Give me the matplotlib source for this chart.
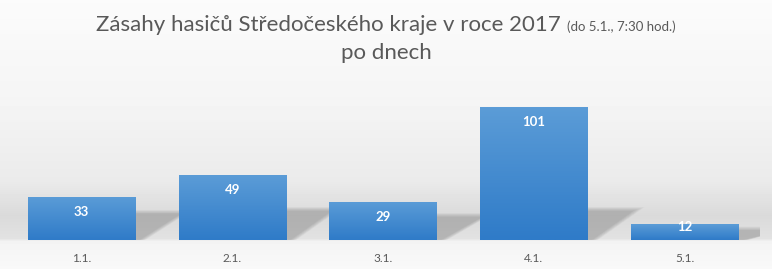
#Zasahy hasicu po dnech - bar chart
import numpy as np
import matplotlib.pyplot as plt
from matplotlib.patches import Polygon
from matplotlib.colors import LinearSegmentedColormap

#data
days = ['1.1.', '2.1.', '3.1.', '4.1.', '5.1.']
zasahy = [33, 49, 29, 101, 12]

plt.rcParams['font.family'] = ['Lato', 'DejaVu Sans']

fig = plt.figure(figsize=(7.72, 2.69), dpi=100)

#background gradient (light top -> gray near the bar base -> light below)
bg = fig.add_axes([0, 0, 1, 1], zorder=0)
yy = np.arange(269)
shade = np.interp(yy, [0, 100, 180, 215, 238, 241, 269],
                  [0.985, 0.96, 0.92, 0.855, 0.885, 0.955, 0.975])
bg.imshow(np.tile(shade[:, None], (1, 10)), cmap='gray', vmin=0, vmax=1,
          aspect='auto', extent=[0, 1, 1, 0])
bg.set_xlim(0, 1)
bg.set_ylim(1, 0)
bg.axis('off')

ax = fig.add_axes([6 / 772, 29 / 269, 754 / 772, 158 / 269], zorder=1)
ax.patch.set_alpha(0)
x = np.arange(len(days))
bars = ax.bar(x, zasahy, width=0.71, color='none', zorder=3)

#blue vertical gradient inside each bar
grad = np.linspace(0, 1, 100)[:, None]
blue = LinearSegmentedColormap.from_list('b', ['#5b9cd7', '#2f7bc8'])
for b in bars:
    x0, w, h = b.get_x(), b.get_width(), b.get_height()
    im = ax.imshow(grad, cmap=blue, aspect='auto', extent=[x0, x0 + w, 0, h],
                   origin='upper', zorder=3)
    im.set_clip_path(b)
    #soft skewed shadow to the right of the bar base
    sh_h = min(22, h * 0.6)
    xr = x0 + w
    for i in range(10):
        g = i / 9
        pts = [(xr, 0), (xr - 0.02, sh_h + 3 * g),
               (xr + 0.3 + 0.08 * g, sh_h + 3 * g), (xr + 0.03 + 0.04 * g, 0)]
        ax.add_patch(Polygon(pts, closed=True, color='#707070', alpha=0.045,
                             lw=0, zorder=2))

#values inside bars
for xi, v in zip(x, zasahy):
    off = 11.4 if v > 20 else 2.4
    ax.text(xi, v - off, str(v), ha='center', va='center', color='white',
            fontsize=9.5, fontweight='bold', zorder=4)

ax.set_xlim(-0.5, 4.5)
ax.set_ylim(0, 120)
ax.set_yticks([])
ax.set_xticks(x)
ax.set_xticklabels(days, color='#595959', fontsize=8.5)
ax.tick_params(axis='x', length=0, pad=9)
for s in ax.spines.values():
    s.set_visible(False)

#title: big part + small part, centered together
t1 = fig.text(0, 1 - 24 / 269, 'Zásahy hasičů Středočeského kraje v roce 2017 ',
              ha='left', va='center', fontsize=16, color='#595959')
t2 = fig.text(0, 1 - 24 / 269, '(do 5.1., 7:30 hod.)', ha='left', va='baseline',
              fontsize=9.5, color='#595959')
r = fig.canvas.get_renderer()
w1 = t1.get_window_extent(r).width
w2 = t2.get_window_extent(r).width
start = (772 - w1 - w2) / 2
t1.set_x(start / 772)
t1.set_va('baseline')
t1.set_y(1 - 31 / 269)
t2.set_x((start + w1) / 772)
t2.set_y(1 - 31 / 269)
fig.text(0.5, 1 - 53 / 269, 'po dnech', ha='center', va='center',
         fontsize=16, color='#595959')

plt.savefig('out.png', dpi=100)
